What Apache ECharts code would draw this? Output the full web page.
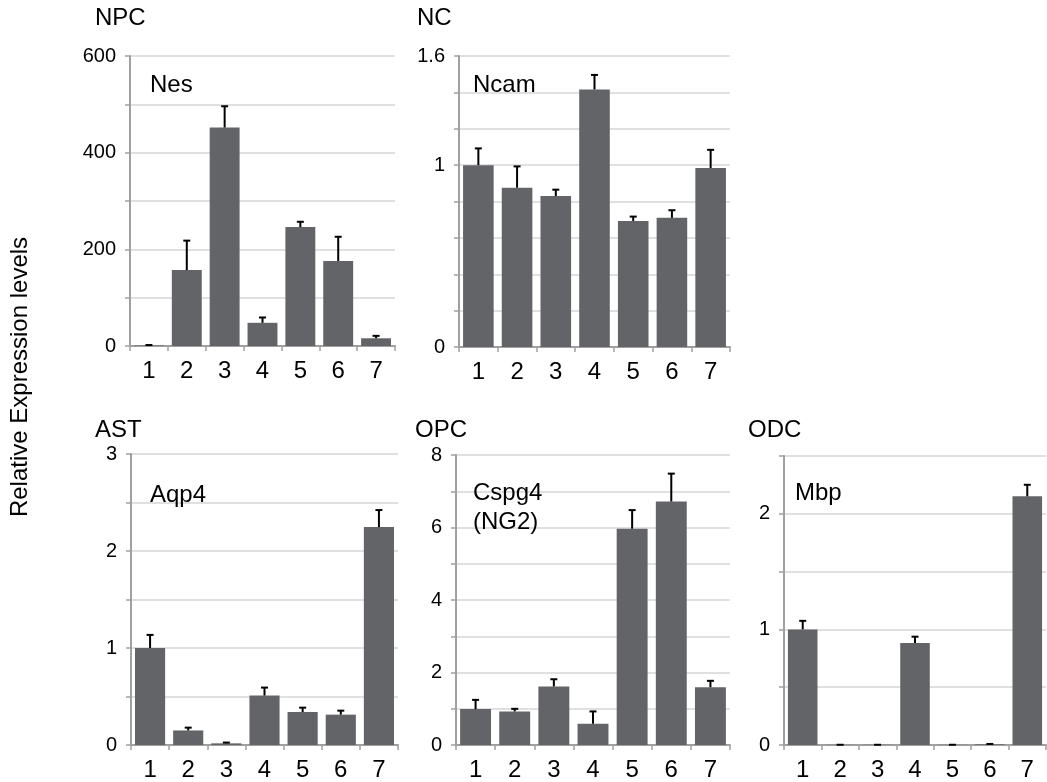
<!DOCTYPE html>
<html>
<head>
<meta charset="utf-8">
<script src="https://cdn.jsdelivr.net/npm/echarts@6/dist/echarts.min.js"></script>
<style>
html,body{margin:0;padding:0;background:#fff;}
#chart{width:1047px;height:782px;}
</style>
</head>
<body>
<div id="chart"></div>
<script>
// ---- data ----
var categories = ['1', '2', '3', '4', '5', '6', '7'];

var npcMean = [1, 157, 452, 48, 246, 176, 16];
var npcErr  = [1, 61, 44, 11, 11, 50, 5];

var ncMean = [1.0, 0.876, 0.83, 1.416, 0.693, 0.71, 0.984];
var ncErr  = [0.092, 0.117, 0.035, 0.08, 0.024, 0.042, 0.1];

var astMean = [1.0, 0.15, 0.017, 0.51, 0.34, 0.313, 2.247];
var astErr  = [0.135, 0.029, 0.008, 0.082, 0.045, 0.041, 0.175];

var opcMean = [0.99, 0.926, 1.614, 0.586, 5.966, 6.716, 1.595];
var opcErr  = [0.255, 0.072, 0.2, 0.34, 0.514, 0.77, 0.175];

var odcMean = [1.0, 0.002, 0.002, 0.883, 0.002, 0.006, 2.151];
var odcErr  = [0.074, 0, 0, 0.054, 0, 0.003, 0.1];

var panelTitles = ['NPC', 'NC', 'AST', 'OPC', 'ODC'];
var geneLabels = ['Nes', 'Ncam', 'Aqp4', 'Cspg4\n(NG2)', 'Mbp'];
var yAxisTitle = 'Relative Expression levels';

// y axis settings: [max, interval, labelled values]
var yMax = [600, 1.6, 3, 8, 2.5];
var yInterval = [100, 0.2, 0.5, 1, 0.5];
var yLabelled = [[0, 200, 400, 600], [0, 1, 1.6], [0, 1, 2, 3], [0, 2, 4, 6, 8], [0, 1, 2]];

var means = [npcMean, ncMean, astMean, opcMean, odcMean];
var errs = [npcErr, ncErr, astErr, opcErr, odcErr];

// ---- layout ----
var grids = [
  {left: 130, top: 56, width: 265, height: 290},
  {left: 459, top: 56, width: 271, height: 291},
  {left: 131, top: 454, width: 267, height: 291},
  {left: 456, top: 455, width: 274, height: 291},
  {left: 784, top: 456, width: 262, height: 290}
];
var titlePos = [[95, 6], [417, 6], [95, 418], [415, 418], [748, 418]];
var genePos = [[150, 71], [473, 71], [150, 481], [473, 479], [795, 479]];

var FONT = '"Liberation Sans", Arial, Helvetica, sans-serif';
var AXIS_COLOR = '#a0a0a0';
var GRID_COLOR = '#d6d6d6';
var BAR_COLOR = '#636467';

var chart = echarts.init(document.getElementById('chart'));

var titles = [];
var xAxes = [], yAxes = [], series = [];
for (var i = 0; i < 5; i++) {
  titles.push({
    text: panelTitles[i], left: titlePos[i][0], top: titlePos[i][1], padding: 0,
    textStyle: {fontFamily: FONT, fontSize: 24, fontWeight: 'normal', color: '#000'}
  });
  titles.push({
    text: geneLabels[i], left: genePos[i][0], top: genePos[i][1], padding: 0,
    textStyle: {fontFamily: FONT, fontSize: 24, fontWeight: 'normal', color: '#000', lineHeight: 29}
  });
  xAxes.push({
    type: 'category', gridIndex: i, data: categories,
    axisLine: {lineStyle: {color: AXIS_COLOR, width: 2}},
    axisTick: {show: true, alignWithLabel: false, length: 5, lineStyle: {color: AXIS_COLOR, width: 1.5}},
    axisLabel: {fontFamily: FONT, fontSize: 24, color: '#000', margin: 13}
  });
  (function (idx) {
    yAxes.push({
      type: 'value', gridIndex: idx, min: 0, max: yMax[idx], interval: yInterval[idx],
      axisLine: {show: true, lineStyle: {color: AXIS_COLOR, width: 2}},
      axisTick: {show: true, length: 5, lineStyle: {color: AXIS_COLOR, width: 1.5}},
      splitLine: {show: true, lineStyle: {color: GRID_COLOR, width: 1.5}},
      axisLabel: {
        fontFamily: FONT, fontSize: 20, color: '#000', margin: 14,
        formatter: function (v) {
          var list = yLabelled[idx];
          for (var k = 0; k < list.length; k++) {
            if (Math.abs(v - list[k]) < 1e-9) return String(list[k]);
          }
          return '';
        }
      }
    });
  })(i);
  series.push({
    type: 'bar', xAxisIndex: i, yAxisIndex: i, data: means[i],
    barCategoryGap: '21%', itemStyle: {color: BAR_COLOR}, silent: true, z: 2
  });
  var errData = [];
  for (var j = 0; j < categories.length; j++) {
    errData.push([j, means[i][j], means[i][j] + errs[i][j]]);
  }
  series.push({
    type: 'custom', xAxisIndex: i, yAxisIndex: i, data: errData, z: 3, silent: true,
    renderItem: function (params, api) {
      var x = api.value(0);
      var lo = api.coord([x, api.value(1)]);
      var hi = api.coord([x, api.value(2)]);
      var cap = 3.5;
      return {
        type: 'group',
        children: [
          {type: 'line', shape: {x1: lo[0], y1: lo[1], x2: hi[0], y2: hi[1]},
           style: {stroke: '#000', lineWidth: 2}},
          {type: 'line', shape: {x1: hi[0] - cap, y1: hi[1], x2: hi[0] + cap, y2: hi[1]},
           style: {stroke: '#000', lineWidth: 2}}
        ]
      };
    }
  });
}

chart.setOption({
  animation: false,
  backgroundColor: '#ffffff',
  title: titles,
  grid: grids,
  xAxis: xAxes,
  yAxis: yAxes,
  series: series,
  graphic: [{
    type: 'text', x: 20, y: 377, rotation: Math.PI / 2,
    style: {text: yAxisTitle, fontFamily: FONT, fontSize: 24, fill: '#000',
            textAlign: 'center', textVerticalAlign: 'middle'}
  }]
});
</script>
</body>
</html>
